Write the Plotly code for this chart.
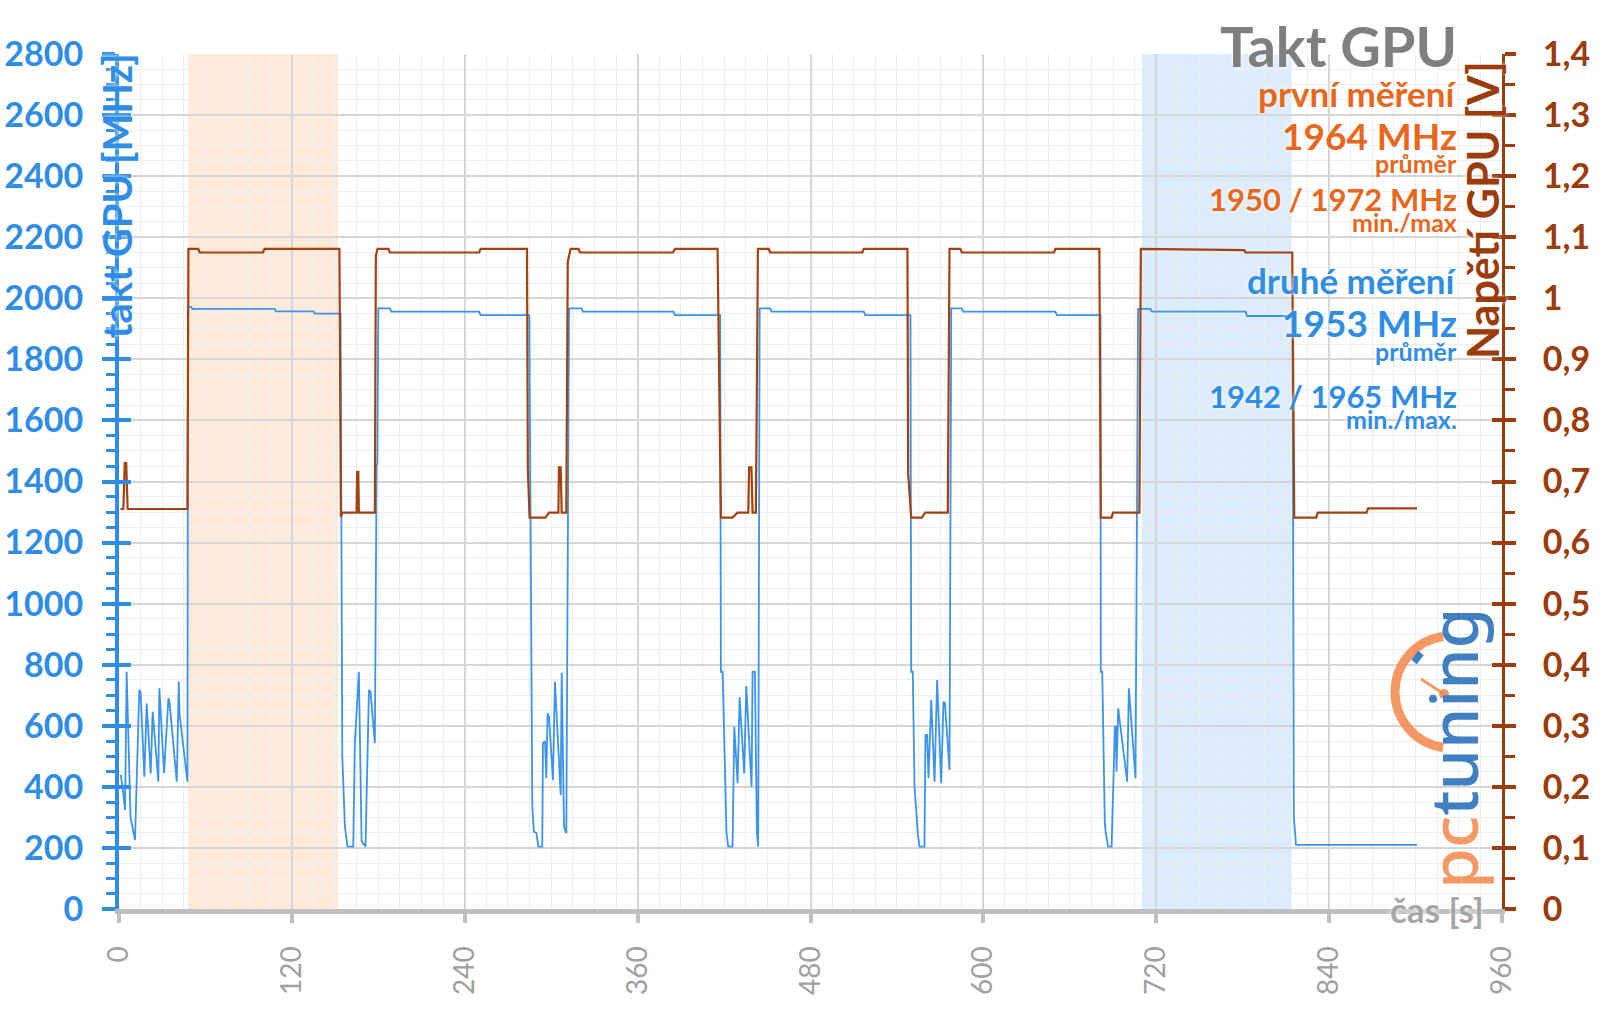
import math
import plotly.graph_objects as go

# GPU clock [MHz] over time [s]
clock_t = [1.2, 2.5, 4.2, 5.3, 8.0, 11.1, 14.1, 15.0, 17.6, 19.2, 22.0, 23.4, 27.3, 28.0, 31.3, 34.3, 35.0, 40.1, 41.5, 42.0, 47.5,
           47.9, 50.0, 51.0, 108.0, 109.0, 135.0, 136.0, 153.8,
           155.0, 156.8, 158.6, 162.6, 163.7, 166.5, 168.4, 171.1, 173.5, 174.6, 177.6, 178.8, 179.3, 180.0,
           188.0, 189.0, 250.0, 251.0, 284.8,
           286.9, 288.0, 289.7, 291.1, 293.8, 294.3, 295.7, 296.6, 297.5, 298.5, 301.2, 302.6, 306.6, 307.3, 308.9, 310.5, 312.4,
           321.0, 322.0, 385.0, 386.0, 417.3,
           417.8, 419.0, 421.7, 422.9, 425.9, 427.1, 429.4, 430.8, 434.0, 435.4, 439.1, 439.8, 441.4, 442.8, 443.7, 444.7,
           452.0, 453.0, 517.0, 518.0, 549.4,
           549.9, 551.0, 552.2, 554.5, 555.6, 559.1, 559.8, 561.0, 561.9, 563.8, 566.1, 567.9, 570.7, 572.3, 573.3, 576.5, 577.7,
           585.0, 586.0, 650.0, 651.0, 681.3,
           681.5, 682.5, 684.3, 685.0, 686.6, 689.0, 691.3, 692.0, 692.4, 693.6, 699.8, 701.0, 705.6, 707.4,
           716.0, 717.0, 782.0, 783.0, 814.6,
           815.5, 817.0, 901.0]
clock_mhz = [439, 400, 324, 777, 300, 226, 717, 710, 433, 673, 444, 646, 417, 723, 445, 690, 680, 417, 745, 640, 417,
             1972, 1972, 1965, 1965, 1957, 1957, 1950, 1950,
             500, 270, 204, 204, 543, 777, 223, 204, 717, 712, 543, 1450, 1460, 1967,
             1967, 1956, 1956, 1945, 1945,
             335, 253, 250, 204, 204, 543, 550, 428, 641, 630, 422, 744, 373, 774, 270, 248, 1967,
             1967, 1956, 1956, 1945, 1945,
             777, 777, 248, 204, 204, 597, 412, 693, 444, 730, 400, 777, 777, 248, 204, 1967,
             1967, 1956, 1956, 1945, 1945,
             777, 777, 400, 248, 204, 204, 570, 570, 428, 684, 417, 750, 412, 679, 675, 455, 1967,
             1967, 1956, 1956, 1945, 1945,
             777, 777, 281, 248, 204, 204, 597, 597, 450, 657, 417, 723, 428, 1965,
             1965, 1956, 1956, 1942, 1942,
             300, 210, 210]

# GPU voltage [V] over time [s]
volt_t = [1.0, 3.0, 4.0, 5.0, 6.0, 47.5,
          48.2, 55.0, 56.0, 100.0, 101.0, 153.0,
          154.0, 155.0, 164.9, 165.3, 166.1, 166.5, 177.6, 178.3, 179.5,
          187.0, 188.0, 250.0, 251.0, 283.2, 283.8, 285.0,
          296.0, 298.5, 305.0, 305.4, 306.6, 307.3, 310.5, 311.5, 313.5,
          319.0, 320.0, 384.5, 386.0, 415.5, 417.8,
          425.9, 429.3, 436.8, 437.4, 439.0, 439.8, 442.1, 443.5,
          451.0, 452.0, 516.0, 517.0, 547.3, 547.8, 549.9,
          557.3, 559.6, 575.3, 576.5,
          584.0, 585.0, 649.0, 650.0, 680.5, 681.5,
          689.0, 690.0, 708.3, 709.3,
          781.0, 782.0, 814.4, 815.8,
          831.0, 832.0, 866.0, 867.0, 901.0]
volt_v = [0.655, 0.655, 0.730, 0.730, 0.655, 0.655,
          1.081, 1.081, 1.075, 1.075, 1.081, 1.081,
          0.642, 0.649, 0.649, 0.716, 0.716, 0.649, 0.649, 1.070, 1.081,
          1.081, 1.075, 1.075, 1.081, 1.081, 0.720, 0.641,
          0.641, 0.649, 0.649, 0.723, 0.723, 0.649, 0.649, 1.060, 1.081,
          1.081, 1.075, 1.075, 1.081, 1.081, 0.641,
          0.641, 0.649, 0.649, 0.723, 0.723, 0.649, 0.649, 1.081,
          1.081, 1.075, 1.075, 1.081, 1.081, 0.713, 0.641,
          0.641, 0.649, 0.649, 1.081,
          1.081, 1.075, 1.075, 1.081, 1.081, 0.641,
          0.641, 0.649, 0.649, 1.081,
          1.079, 1.075, 1.075, 0.641,
          0.641, 0.649, 0.649, 0.656, 0.656]

# measured windows (first / second run)
band_first = [48, 152]
band_second = [710, 814]

x_ticks = [0, 120, 240, 360, 480, 600, 720, 840, 960]

BLUE = '#2f8de6'
BLUE_LINE = '#3b93ec'
BROWN = '#9c3b0b'
ORANGE = '#e8671c'
GRAY = '#7f7f7f'
FONT = 'Lato'

# plot box in pixels
L, R, T, B = 119, 1502, 54, 909


def to_paper(px, py):
    return (px - L) / (R - L), (B - py) / (B - T)


def arc_path(cx, cy, r, a0, a1, n=4):
    # circular arc as cubic beziers, pixel space -> paper space
    step = (a1 - a0) / n
    k = 4 / 3 * math.tan(math.radians(step) / 4) * r
    def pt(a):
        return cx + r * math.cos(math.radians(a)), cy - r * math.sin(math.radians(a))
    def tan_(a):
        return -math.sin(math.radians(a)), -math.cos(math.radians(a))
    x0, y0 = to_paper(*pt(a0))
    path = f'M {x0},{y0}'
    for i in range(n):
        s, e = a0 + i * step, a0 + (i + 1) * step
        ps, pe = pt(s), pt(e)
        ts, te = tan_(s), tan_(e)
        c1 = to_paper(ps[0] + k * ts[0], ps[1] + k * ts[1])
        c2 = to_paper(pe[0] - k * te[0], pe[1] - k * te[1])
        p3 = to_paper(*pe)
        path += f' C {c1[0]},{c1[1]} {c2[0]},{c2[1]} {p3[0]},{p3[1]}'
    return path


fig = go.Figure()

fig.add_trace(go.Scatter(x=volt_t, y=volt_v, mode='lines', yaxis='y2',
    line={'color': '#a3420f', 'width': 2.2}, hoverinfo='skip'))
fig.add_trace(go.Scatter(x=clock_t, y=clock_mhz, mode='lines', yaxis='y',
    line={'color': BLUE_LINE, 'width': 1.8}, hoverinfo='skip'))
# invisible helpers so the tick-only overlay axes get drawn
fig.add_trace(go.Scatter(x=clock_t, y=clock_mhz, mode='lines', yaxis='y3',
    line={'width': 0}, opacity=0, hoverinfo='skip'))
fig.add_trace(go.Scatter(x=volt_t, y=volt_v, mode='lines', yaxis='y4',
    line={'width': 0}, opacity=0, hoverinfo='skip'))

fig.add_vrect(x0=band_first[0], x1=band_first[1], fillcolor='rgba(251,190,140,0.32)',
              line_width=0, layer='below')
fig.add_vrect(x0=band_second[0], x1=band_second[1], fillcolor='rgba(150,195,245,0.32)',
              line_width=0, layer='below')

tick_font_l = {'family': FONT, 'size': 34, 'color': BLUE, 'weight': 'bold'}
tick_font_r = {'family': FONT, 'size': 34, 'color': BROWN, 'weight': 'bold'}

fig.update_layout(
    width=1600, height=1009,
    margin={'l': L, 'r': 1600 - R, 't': T, 'b': 1009 - B, 'autoexpand': False},
    paper_bgcolor='white', plot_bgcolor='white',
    showlegend=False, hovermode=False, separators=', ',
    xaxis={'range': [0, 960], 'tickvals': x_ticks, 'tickangle': -90, 'automargin': False,
           'showgrid': True, 'gridcolor': '#d6d6d6', 'gridwidth': 1.5,
           'minor': {'dtick': 15, 'showgrid': True, 'gridcolor': '#eeeeee', 'gridwidth': 1},
           'showline': True, 'linecolor': '#bfbfbf', 'linewidth': 5,
           'ticks': 'outside', 'ticklen': 9, 'tickwidth': 4, 'tickcolor': '#bfbfbf',
           'ticklabelstandoff': 12,
           'tickfont': {'family': FONT, 'size': 28, 'color': '#a0a0a0'}, 'zeroline': False},
    yaxis={'range': [0, 2800], 'dtick': 200, 'automargin': False,
           'showgrid': True, 'gridcolor': '#d6d6d6', 'gridwidth': 1.5,
           'minor': {'dtick': 50, 'showgrid': True, 'gridcolor': '#eeeeee', 'gridwidth': 1,
                     'ticks': 'outside', 'ticklen': 9, 'tickwidth': 3, 'tickcolor': BLUE},
           'showline': True, 'linecolor': BLUE, 'linewidth': 4,
           'ticks': 'outside', 'ticklen': 13, 'tickwidth': 4, 'tickcolor': BLUE,
           'ticklabelstandoff': 12, 'tickfont': tick_font_l, 'zeroline': False},
    yaxis2={'range': [0, 1.4], 'dtick': 0.1, 'overlaying': 'y', 'side': 'right', 'showgrid': False,
            'automargin': False,
            'minor': {'dtick': 0.05, 'ticks': 'outside', 'ticklen': 10, 'tickwidth': 3, 'tickcolor': BROWN},
            'showline': True, 'linecolor': BROWN, 'linewidth': 3,
            'ticks': 'outside', 'ticklen': 11, 'tickwidth': 4, 'tickcolor': BROWN,
            'ticklabelstandoff': 20, 'tickfont': tick_font_r, 'zeroline': False},
    yaxis3={'range': [0, 2800], 'dtick': 200, 'overlaying': 'y', 'side': 'left', 'showgrid': False,
            'automargin': False,
            'showticklabels': False, 'ticks': 'inside', 'ticklen': 12, 'tickwidth': 4,
            'tickcolor': BLUE, 'zeroline': False, 'showline': False},
    yaxis4={'range': [0, 1.4], 'dtick': 0.1, 'overlaying': 'y', 'side': 'right', 'showgrid': False,
            'automargin': False,
            'showticklabels': False, 'ticks': 'inside', 'ticklen': 10, 'tickwidth': 4,
            'tickcolor': BROWN, 'zeroline': False, 'showline': False},
)

glow = '0px 0px 4px white'


def label(text, py, size, color, weight='bold'):
    fig.add_annotation(text=text, xref='paper', yref='paper', x=1, y=1, xanchor='right', yanchor='middle',
                       xshift=-43, yshift=T - py, showarrow=False,
                       font={'family': FONT, 'size': size, 'color': color, 'weight': weight, 'shadow': glow})


label('Takt GPU', 45, 56, GRAY)
label('první měření', 93, 35, ORANGE)
label('1964 MHz', 135, 37, ORANGE)
label('průměr', 163, 25, ORANGE)
label('1950 / 1972 MHz', 199, 31, ORANGE)
label('min./max', 222, 25, ORANGE)
label('druhé měření', 280, 35, BLUE)
label('1953 MHz', 322, 37, BLUE)
label('průměr', 351, 25, BLUE)
label('1942 / 1965 MHz', 396, 31, BLUE)
label('min./max.', 419, 25, BLUE)

# axis titles
fig.add_annotation(text='takt GPU [MHz]', xref='paper', yref='paper', x=0, y=1, xanchor='center',
                   yanchor='top', xshift=-3, yshift=2, textangle=-90, showarrow=False,
                   font={'family': FONT, 'size': 40, 'color': BLUE, 'weight': 'bold', 'shadow': glow})
fig.add_annotation(text='Napětí GPU [V]', xref='paper', yref='paper', x=1, y=1, xanchor='center',
                   yanchor='top', xshift=-20, yshift=-5, textangle=-90, showarrow=False,
                   font={'family': FONT, 'size': 43, 'color': BROWN, 'weight': 'bold', 'shadow': glow})
fig.add_annotation(text='čas [s]', xref='paper', yref='paper', x=1, y=0, xanchor='center',
                   yanchor='middle', xshift=-65, yshift=0, showarrow=False,
                   font={'family': FONT, 'size': 35, 'color': '#a6a6a6', 'weight': 'bold',
                         'shadow': '0px 0px 5px white'})

# pctuning watermark
ORANGE_LOGO = 'rgba(242,135,75,0.85)'
fig.add_shape(type='path', path=arc_path(1451, 692, 56, 98, 262), xref='paper', yref='paper',
              line={'color': ORANGE_LOGO, 'width': 9})
nx0, ny0 = to_paper(1444, 694)
nx1, ny1 = to_paper(1421, 679)
fig.add_shape(type='line', x0=nx0, y0=ny0, x1=nx1, y1=ny1, xref='paper', yref='paper',
              line={'color': ORANGE_LOGO, 'width': 3})
cx0, cy0 = to_paper(1439, 689)
cx1, cy1 = to_paper(1449, 699)
fig.add_shape(type='circle', x0=cx0, y0=cy0, x1=cx1, y1=cy1, xref='paper', yref='paper',
              fillcolor=ORANGE_LOGO, line_width=0)
bx0, by0 = to_paper(1414, 662)
bx1, by1 = to_paper(1421, 653)
fig.add_shape(type='line', x0=bx0, y0=by0, x1=bx1, y1=by1, xref='paper', yref='paper',
              line={'color': '#3f7fc2', 'width': 7})
fig.add_annotation(text=f"<span style='color:{ORANGE_LOGO}'>pc</span>"
                        "<span style='color:#3f7fc2'>tuning</span>",
                   xref='paper', yref='paper', x=to_paper(1452, 0)[0], y=to_paper(0, 748)[1],
                   xanchor='center', yanchor='middle', textangle=-90, showarrow=False,
                   font={'family': 'Noto Sans', 'size': 66, 'weight': 500})

# the browser's default body margin would shift the whole figure by 8 px
fig.write_html('out.html', config={'displayModeBar': False},
               post_script="document.body.style.margin='0';")
